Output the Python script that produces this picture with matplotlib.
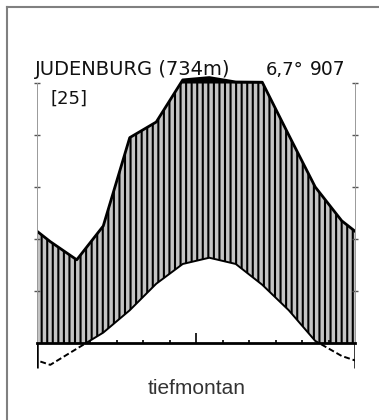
import matplotlib
matplotlib.use("Agg")
import matplotlib.pyplot as plt
import matplotlib.patches as mpatches
from matplotlib.lines import Line2D
import numpy as np

# Walter-Lieth Klimadiagramm Judenburg
months = ["J", "F", "M", "A", "M", "J", "J", "A", "S", "O", "N", "D"]
temp_c = [-4.2, -1.1, 2.0, 6.3, 11.4, 15.2, 16.4, 15.2, 11.2, 6.3, 0.4, -2.5]
precip_mm = [39, 32, 45, 79, 85, 112, 121, 104, 103, 80, 60, 47]
station = "JUDENBURG (734m)"
years = "[25]"
mean_temp = "6,7°"
annual_precip = "907"
caption = "tiefmontan"

plt.rcParams['hatch.linewidth'] = 1.5

# month centres, wrap Dec/Jan around the edges
x = np.arange(len(months)) + 0.5
xe = np.concatenate([[x[0] - 1], x, [x[-1] + 1]])
t = np.array(temp_c)
te = np.concatenate([[t[-1]], t, [t[0]]])
p = np.array(precip_mm, dtype=float)
# 10 degC = 20 mm, above 100 mm reduced 1:10
pt = np.where(p <= 100, p / 2, 50 + (p - 100) / 20)
pte = np.concatenate([[pt[-1]], pt, [pt[0]]])

fig = plt.figure(figsize=(3.79, 4.2), dpi=100)
ax = fig.add_axes([37/379, 0.1214, 318/379, 0.7057])
ax.set_xlim(0, 12)
ax.set_ylim(-5, 52)

above = mpatches.Rectangle((0, 0), 12, 50, transform=ax.transData)
below = mpatches.Rectangle((0, -10), 12, 10, transform=ax.transData)

# humid period, vertical hatching
hum = ax.fill_between(xe, te, pte, where=pte > te, interpolate=True,
                      facecolor='#c4c4c4', edgecolor='black', hatch='|||', linewidth=0)
hum.set_clip_path(above)

# > 100 mm black
ax.fill_between(xe, 50, pte, where=pte > 50, interpolate=True,
                color='black', linewidth=0)

ax.plot(xe, pte, color='black', lw=2.0)
l1, = ax.plot(xe, te, color='black', lw=1.4)
l1.set_clip_path(above)
l2, = ax.plot(xe, te, color='black', lw=1.4, linestyle=(0, (3, 1.5)))
l2.set_clip_path(below)

# axes
ax.spines['top'].set_visible(False)
ax.spines['bottom'].set_position(('data', 0))
ax.spines['bottom'].set_linewidth(2)
for s in ['left', 'right']:
    ax.spines[s].set_bounds(0, 50)
    ax.spines[s].set_color('#999999')
    ax.spines[s].set_linewidth(0.7)
ax.vlines([0, 12], -4.8, 0, color='black', lw=1.8)

ax.set_xticks([6])
ax.set_xticks([1, 2, 3, 4, 5, 7, 8, 9, 10, 11], minor=True)
ax.tick_params(axis='x', which='major', direction='in', length=7, width=1.2, labelbottom=False)
ax.tick_params(axis='x', which='minor', direction='in', length=2.5, width=1.2)
ax.set_yticks([10, 20, 30, 40, 50])
ax.tick_params(axis='y', which='major', direction='inout', length=5, width=1.0,
               color='#555555', labelleft=False, left=True, right=True)

# texts
fig.text(35/379, 1 - 75/420, station, fontsize=14, family='DejaVu Sans',
         va='baseline', color='#111111')
fig.text(266/379, 1 - 75/420, mean_temp, fontsize=13, family='DejaVu Sans',
         va='baseline', color='#111111')
fig.text(310/379, 1 - 75/420, annual_precip, fontsize=13.5, family='DejaVu Sans',
         va='baseline', color='#111111')
fig.text(50/379, 1 - 104/420, years, fontsize=13, family='DejaVu Sans',
         va='baseline', color='#111111')
fig.text(197/379, 1 - 394/420, caption, fontsize=15, family='Liberation Sans',
         ha='center', va='baseline', color='#333333')

# frame
fig.add_artist(Line2D([7/379, 1], [1 - 7/420] * 2, color='#808080', lw=1.5))
fig.add_artist(Line2D([7/379] * 2, [0, 1 - 7/420], color='#808080', lw=1.5))

fig.savefig("out.png", dpi=100)
